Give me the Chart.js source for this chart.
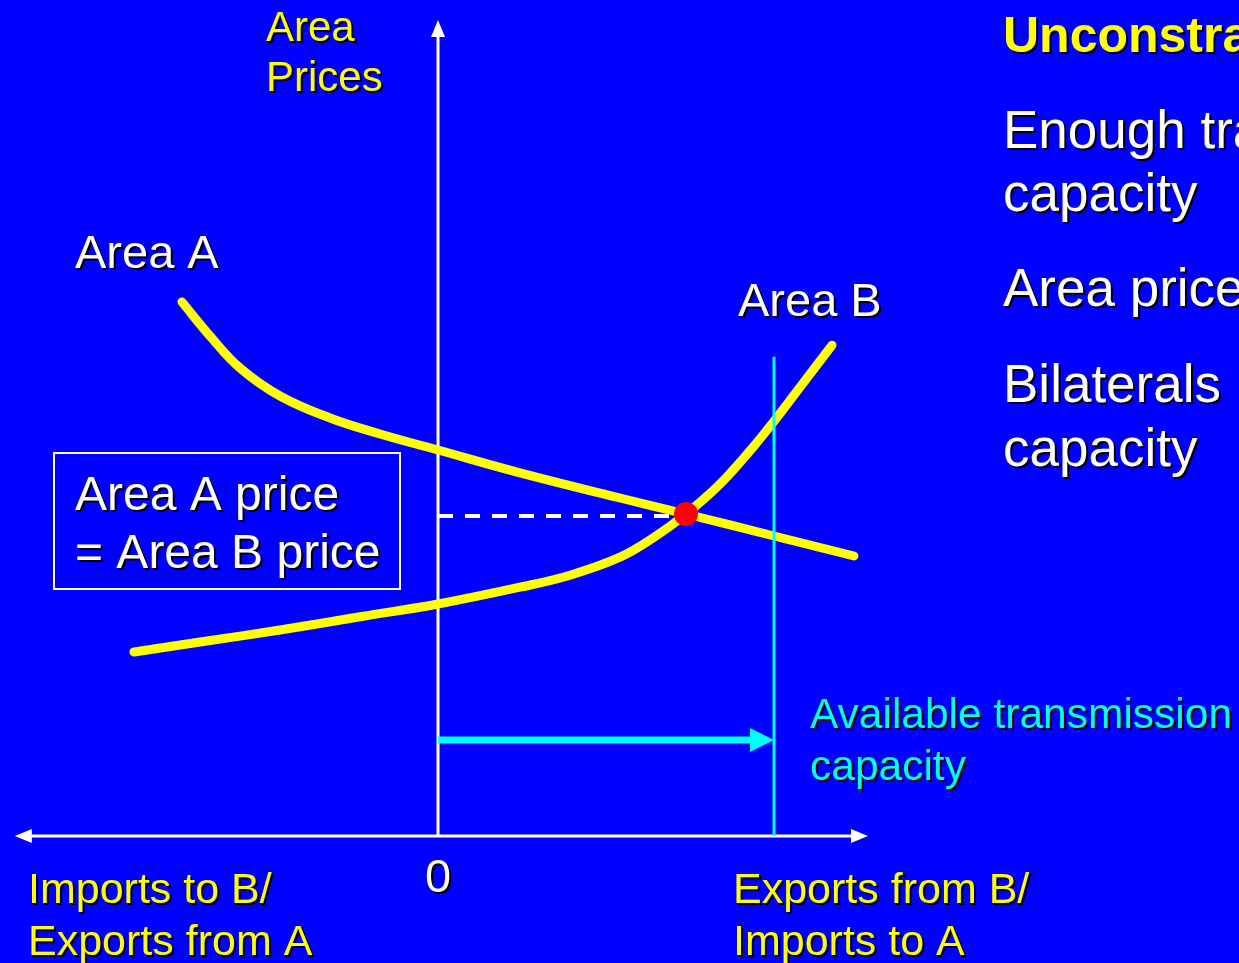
<!DOCTYPE html>
<html lang="en">
<head>
  <meta charset="UTF-8" />
  <title>Unconstrained transmission</title>
  <script src="https://cdn.jsdelivr.net/npm/chart.js"></script>
  <style>
    body {
      margin: 0;
      background: #0000ff;
      overflow: hidden;
    }
    .chart-wrap {
      position: absolute;
      left: 0;
      top: 0;
      width: 1239px;
      height: 963px;
    }
  </style>
</head>
<body>
  <div class="chart-wrap">
    <canvas id="priceChart" width="1239" height="963"></canvas>
  </div>

<script>
  // exchange volume (x, negative = imports to B) and area price (y)
  const areaAX = [-6.4, -5.7, -4.95, -3.95, -2.7, -1.45, 0, 2.05, 4.55, 6.2, 8.4, 10.4];
  const areaAY = [13.35, 12.5, 11.7, 11.0, 10.45, 10.05, 9.65, 9.08, 8.45, 8.05, 7.5, 7.0];
  const areaBX = [-7.6, -5.95, -3.95, -1.95, 0, 2.05, 3.3, 4.55, 5.375, 6.2, 7.05, 7.875, 8.4, 9.125, 9.85];
  const areaBY = [4.6, 4.85, 5.15, 5.48, 5.8, 6.22, 6.52, 6.97, 7.45, 8.05, 8.8, 9.72, 10.37, 11.32, 12.27];
  const equilibrium = { x: 6.2, y: 8.05 };
  const commonPrice = 8.0;
  const capacity = 8.4;       // available transmission capacity
  const capacityTop = 11.98;
  const capacityArrowY = 2.4;
  const axisRange = { xMin: -10.58, xMax: 10.75, yMax: 20.4 };

  const toPoints = (xs, ys) => xs.map((x, i) => ({ x, y: ys[i] }));

  function drawHead(ctx, tipX, tipY, dir, len, half, color) {
    // dir: 'up', 'left', 'right'
    ctx.fillStyle = color;
    ctx.beginPath();
    ctx.moveTo(tipX, tipY);
    if (dir === 'up') {
      ctx.lineTo(tipX - half, tipY + len);
      ctx.lineTo(tipX + half, tipY + len);
    } else if (dir === 'left') {
      ctx.lineTo(tipX + len, tipY - half);
      ctx.lineTo(tipX + len, tipY + half);
    } else {
      ctx.lineTo(tipX - len, tipY - half);
      ctx.lineTo(tipX - len, tipY + half);
    }
    ctx.closePath();
    ctx.fill();
  }

  const axesPlugin = {
    id: 'axesPlugin',
    beforeDatasetsDraw(chart) {
      const { ctx, scales: { x, y } } = chart;
      const x0 = x.getPixelForValue(0);
      const y0 = y.getPixelForValue(0);
      const xl = x.getPixelForValue(axisRange.xMin);
      const xr = x.getPixelForValue(axisRange.xMax);
      const yt = y.getPixelForValue(axisRange.yMax);
      ctx.save();
      ctx.strokeStyle = '#ffffff';
      ctx.lineWidth = 3;
      ctx.beginPath();
      ctx.moveTo(x0, y0);
      ctx.lineTo(x0, yt + 14);
      ctx.moveTo(xl + 14, y0);
      ctx.lineTo(xr - 14, y0);
      ctx.stroke();
      drawHead(ctx, x0, yt, 'up', 17, 7, '#ffffff');
      drawHead(ctx, xl, y0, 'left', 17, 7, '#ffffff');
      drawHead(ctx, xr, y0, 'right', 17, 7, '#ffffff');

      // the "Area A price = Area B price" box
      ctx.lineWidth = 2;
      ctx.strokeRect(54, 453, 346, 136);
      ctx.restore();
    },
    afterDatasetsDraw(chart) {
      const { ctx, scales: { x, y } } = chart;
      const tipX = x.getPixelForValue(capacity);
      const tipY = y.getPixelForValue(capacityArrowY);
      ctx.save();
      drawHead(ctx, tipX, tipY, 'right', 24, 12, '#00ffff');
      ctx.restore();
    }
  };

  const labels = [
    { t: 'Area', x: 266, y: 41, size: 42, color: '#ffff00' },
    { t: 'Prices', x: 266, y: 91, size: 42, color: '#ffff00' },
    { t: 'Area A', x: 75, y: 268, size: 47, color: '#ffffff' },
    { t: 'Area B', x: 738, y: 316, size: 47, color: '#ffffff' },
    { t: 'Area A price', x: 75, y: 510, size: 48, color: '#ffffff' },
    { t: '= Area B price', x: 75, y: 568, size: 48, color: '#ffffff' },
    { t: '0', x: 438, y: 892, size: 47, color: '#ffffff', align: 'center' },
    { t: 'Imports to B/', x: 28, y: 903, size: 43, color: '#ffff00' },
    { t: 'Exports from A', x: 28, y: 955, size: 43, color: '#ffff00' },
    { t: 'Exports from B/', x: 733, y: 903, size: 43, color: '#ffff00' },
    { t: 'Imports to A', x: 733, y: 955, size: 43, color: '#ffff00' },
    { t: 'Available transmission', x: 810, y: 728, size: 42.5, color: '#00ffff' },
    { t: 'capacity', x: 810, y: 780, size: 42.5, color: '#00ffff' },
    { t: 'Unconstrained', x: 1003, y: 52, size: 50, color: '#ffff00', bold: true },
    { t: 'Enough transmission', x: 1003, y: 148, size: 53, color: '#ffffff' },
    { t: 'capacity', x: 1003, y: 211, size: 53, color: '#ffffff' },
    { t: 'Area prices equal', x: 1003, y: 306, size: 53, color: '#ffffff' },
    { t: 'Bilaterals possible up to', x: 1003, y: 402, size: 53, color: '#ffffff' },
    { t: 'capacity', x: 1003, y: 466, size: 53, color: '#ffffff' }
  ];

  const textPlugin = {
    id: 'textPlugin',
    afterDraw(chart) {
      const ctx = chart.ctx;
      ctx.save();
      ctx.textBaseline = 'alphabetic';
      labels.forEach(l => {
        ctx.font = (l.bold ? 'bold ' : '') + l.size + 'px "Liberation Sans", Arial, sans-serif';
        ctx.textAlign = l.align || 'left';
        ctx.fillStyle = '#000000';
        ctx.fillText(l.t, l.x + 2, l.y + 2);
        ctx.fillStyle = l.color;
        ctx.fillText(l.t, l.x, l.y);
      });
      ctx.restore();
    }
  };

  const ctx = document.getElementById('priceChart').getContext('2d');
  new Chart(ctx, {
    type: 'line',
    data: {
      datasets: [
        {
          label: 'Capacity limit',
          data: [{ x: capacity, y: 0 }, { x: capacity, y: capacityTop }],
          borderColor: '#00ffff',
          borderWidth: 3,
          pointRadius: 0,
          order: 0
        },
        {
          label: 'Equilibrium',
          data: [equilibrium],
          showLine: false,
          pointRadius: 12,
          pointBackgroundColor: '#ff0000',
          pointBorderWidth: 0,
          order: 0
        },
        {
          label: 'Transmission capacity',
          data: [{ x: 0, y: capacityArrowY }, { x: capacity - 0.4, y: capacityArrowY }],
          borderColor: '#00ffff',
          borderWidth: 7,
          pointRadius: 0,
          order: 1
        },
        {
          label: 'Area A',
          data: toPoints(areaAX, areaAY),
          borderColor: '#ffff00',
          borderWidth: 9,
          borderCapStyle: 'round',
          pointRadius: 0,
          tension: 0.4,
          order: 2
        },
        {
          label: 'Area B',
          data: toPoints(areaBX, areaBY),
          borderColor: '#ffff00',
          borderWidth: 9,
          borderCapStyle: 'round',
          pointRadius: 0,
          tension: 0.4,
          order: 2
        },
        {
          label: 'Common price',
          data: [{ x: 0, y: commonPrice }, { x: equilibrium.x, y: commonPrice }],
          borderColor: '#ffffff',
          borderWidth: 4,
          borderDash: [15, 12],
          pointRadius: 0,
          order: 3
        }
      ]
    },
    options: {
      responsive: false,
      animation: false,
      layout: { padding: 0, autoPadding: false },
      plugins: {
        legend: { display: false },
        tooltip: { enabled: false }
      },
      scales: {
        x: { type: 'linear', min: -10.95, max: 20.025, display: false },
        y: { type: 'linear', min: -3.175, max: 20.9, display: false }
      }
    },
    plugins: [axesPlugin, textPlugin]
  });
</script>
</body>
</html>
